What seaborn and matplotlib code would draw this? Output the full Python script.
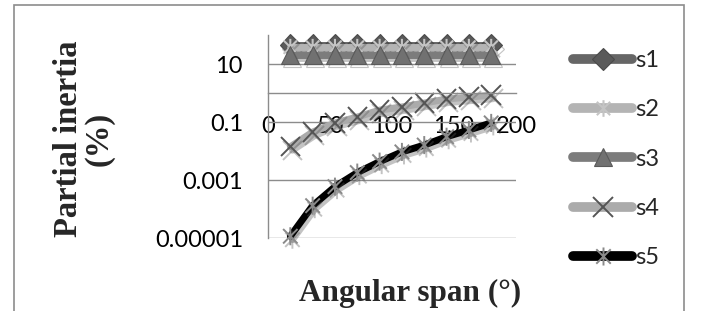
import numpy as np
import pandas as pd
import matplotlib
matplotlib.use("Agg")
import matplotlib.pyplot as plt
import matplotlib.path as mpath
import matplotlib.patheffects as pe
from matplotlib.patches import Rectangle
import seaborn as sns

# ---------------- data ----------------
angular_span = [18, 36, 54, 72, 90, 108, 126, 144, 162, 180]
s1 = [45, 45, 45, 45, 45, 45, 45, 45, 45, 45]
s2 = [38, 38, 38, 38, 38, 38, 38, 38, 38, 38]
s3 = [21, 21, 21, 21, 21, 21, 21, 21, 21, 21]
s4 = [0.014, 0.045, 0.093, 0.148, 0.257, 0.33, 0.45, 0.62, 0.72, 0.84]
s5 = [0.0000115, 0.00013, 0.00059, 0.0018, 0.0043, 0.0093, 0.016, 0.031, 0.053, 0.093]
series_names = ["s1", "s2", "s3", "s4", "s5"]
x_ticks = [0, 50, 100, 150, 200]
y_ticks = [0.00001, 0.001, 0.1, 10]
y_ticklabels = ["0.00001", "0.001", "0.1", "10"]

sns.set_theme(style="white")
plt.rcParams["font.family"] = ["Lato", "DejaVu Sans"]

W, H = 706, 311
fig = plt.figure(figsize=(W / 100, H / 100), dpi=100)
ax = fig.add_axes([268 / W, 1 - 238 / H, (516 - 268) / W, (238 - 35) / H])

star = mpath.Path([(-1, -1), (1, 1), (-1, 1), (1, -1), (0, -1.25), (0, 1.25)],
                  [1, 2, 1, 2, 1, 2])

shadow = [pe.SimpleLineShadow(offset=(1.5, -2.5), shadow_color="#555555", alpha=0.35),
          pe.Normal()]

styles = {
    "s1": dict(color="#666666", marker="D", markersize=11, markerfacecolor="#5a5a5a",
               markeredgecolor="#4a4a4a", markeredgewidth=0.8, linewidth=5),
    "s2": dict(color="#b4b4b4", marker=star, markersize=12, markerfacecolor="none",
               markeredgecolor="#c4c4c4", markeredgewidth=1.5, linewidth=5),
    "s3": dict(color="#7c7c7c", marker="^", markersize=13, markerfacecolor="#717171",
               markeredgecolor="#5a5a5a", markeredgewidth=0.8, linewidth=5),
    "s4": dict(color="#ababab", marker="x", markersize=14, markeredgecolor="#555555",
               markeredgewidth=1.4, linewidth=5),
    "s5": dict(color="#000000", marker=star, markersize=13, markerfacecolor="none",
               markeredgecolor="#8a8a8a", markeredgewidth=1.4, linewidth=5),
}
values = {"s1": s1, "s2": s2, "s3": s3, "s4": s4, "s5": s5}

for name in series_names:
    sns.lineplot(x=angular_span, y=values[name], ax=ax, label=name, clip_on=False,
                 solid_capstyle="round", path_effects=shadow, **styles[name])

ax.set_yscale("log")
ax.set_ylim(0.00001, 100)
ax.set_xlim(0, 200)
ax.set_yticks(y_ticks)
ax.set_yticklabels(y_ticklabels)
ax.yaxis.set_minor_locator(matplotlib.ticker.NullLocator())
ax.set_xticks(x_ticks)
ax.set_xticklabels([str(t) for t in x_ticks])

ax.set_axisbelow(True)
ax.grid(axis="y", color="#8c8c8c", linewidth=1)
ax.grid(axis="x", visible=False)
for sp in ["top", "right"]:
    ax.spines[sp].set_visible(False)
ax.spines["left"].set_color("#8c8c8c")
ax.spines["left"].set_linewidth(1)
ax.spines["bottom"].set_position(("data", 1))
ax.spines["bottom"].set_color("#8c8c8c")
ax.spines["bottom"].set_linewidth(1)
ax.tick_params(axis="x", length=0, pad=16.5, labelsize=17, colors="black")
ax.tick_params(axis="y", length=0, pad=18, labelsize=17, colors="black")

serif = ["Liberation Serif", "DejaVu Serif"]
ax.set_xlabel("Angular span (°)", fontsize=22.5, fontweight="bold", family=serif)
ax.xaxis.set_label_coords((410 - 268) / 248, -(293 - 238) / 203)
ax.xaxis.label.set_va("center")
ax.set_ylabel("Partial inertia\n(%)", fontsize=23.5, fontweight="bold", family=serif,
              linespacing=1.0, multialignment="center")
ax.yaxis.set_label_coords((84 - 268) / 248, 1 - (139 - 35) / 203)
ax.yaxis.label.set_va("center")

leg = ax.legend(loc="center left", bbox_to_anchor=(573 / W, 1 - 159 / H),
                bbox_transform=fig.transFigure, frameon=False, fontsize=17,
                handlelength=2.5, handletextpad=0.15, labelspacing=1.2,
                borderpad=0, borderaxespad=0, numpoints=1)
for h in leg.legend_handles:
    h.set_linewidth(7)
    h.set_path_effects([])

fig.patches.append(Rectangle((13.5 / W, -0.05), (684 - 13.5) / W, 1.05 - 4.5 / H,
                             transform=fig.transFigure, fill=False,
                             edgecolor="#8c8c8c", linewidth=1.2))

fig.savefig("out.png", dpi=100)
